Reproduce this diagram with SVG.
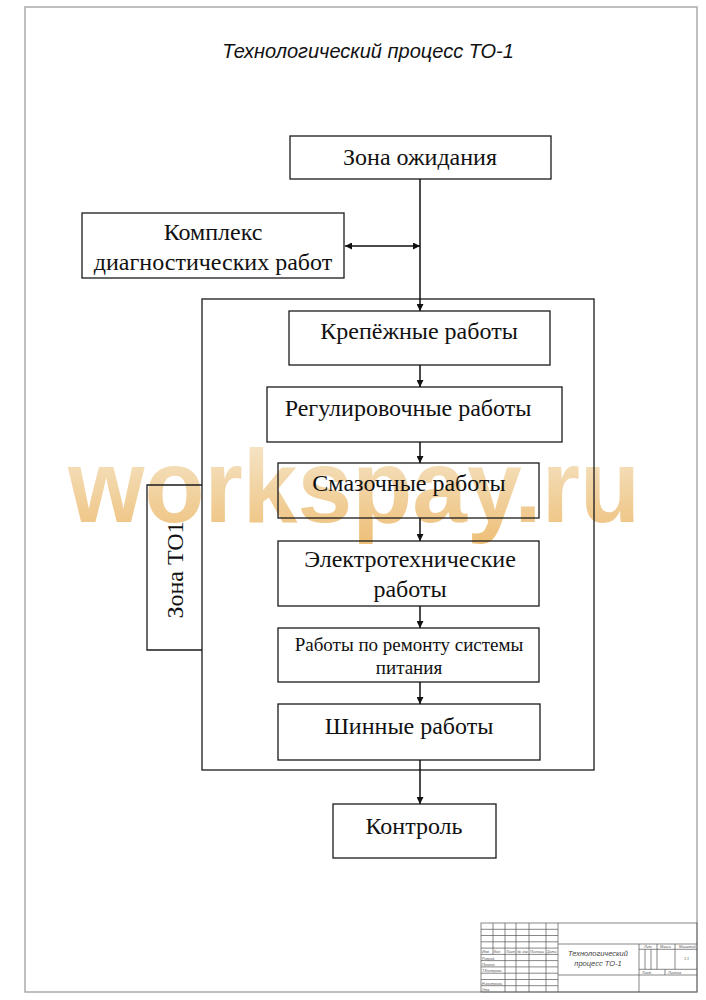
<svg xmlns="http://www.w3.org/2000/svg" width="706" height="1000" viewBox="0 0 706 1000">
<style>
.box{fill:none;stroke:#1a1a1a;stroke-width:1.3}
.lbl{font-family:"Liberation Serif","Times New Roman",serif;font-size:24px;fill:#111;text-anchor:middle}
.sm{font-size:19px}
.con{stroke:#111;stroke-width:1.5;fill:none}
.st{stroke:#555;stroke-width:0.7;fill:none}
.stt{font-family:"Liberation Sans",Arial,sans-serif;font-style:italic;font-size:3.6px;fill:#555}
</style>
<defs>
<marker id="ah" viewBox="0 0 10 10" refX="10" refY="5" markerWidth="7" markerHeight="7" markerUnits="userSpaceOnUse" orient="auto-start-reverse">
<path d="M0,0 L10,5 L0,10 z" fill="#111"/>
</marker>
<linearGradient id="wm" x1="0" y1="0" x2="0" y2="1">
<stop offset="0" stop-color="#f6ead2"/>
<stop offset="1" stop-color="#eebf78"/>
</linearGradient>
</defs>
<rect width="706" height="1000" fill="#fff"/>
<text x="68" y="522" font-family="Liberation Sans,Arial,sans-serif" font-weight="bold" font-size="104" fill="url(#wm)" textLength="572" lengthAdjust="spacingAndGlyphs">workspay.ru</text>
<rect x="25" y="7" width="672" height="985" fill="none" stroke="#aaa" stroke-width="1.5"/>
<text x="368" y="58" font-family="Liberation Sans,Arial,sans-serif" font-style="italic" font-size="20" text-anchor="middle" fill="#111">Технологический процесс ТО-1</text>
<g id="container"><rect class="box" x="202" y="299" width="392" height="471"/></g>
<g id="zona-ozhidaniya"><rect class="box" x="290" y="136" width="261" height="43"/><text class="lbl" x="420" y="165">Зона ожидания</text></g>
<g id="kompleks"><rect class="box" x="82" y="213" width="262" height="65"/><text class="lbl" x="213" y="240">Комплекс</text><text class="lbl" x="213" y="270">диагностических работ</text></g>
<g id="krepezh"><rect class="box" x="289" y="311" width="261" height="54"/><text class="lbl" x="419" y="339">Крепёжные работы</text></g>
<g id="regul"><rect class="box" x="267" y="387" width="295" height="55"/><text class="lbl" x="408" y="416">Регулировочные работы</text></g>
<g id="smaz"><rect class="box" x="278" y="463" width="261" height="55"/><text class="lbl" x="409" y="491">Смазочные работы</text></g>
<g id="elektro"><rect class="box" x="278" y="541" width="261" height="65"/><text class="lbl" x="410" y="567">Электротехнические</text><text class="lbl" x="410" y="597">работы</text></g>
<g id="pitanie"><rect class="box" x="278" y="628" width="261" height="54"/><text class="lbl sm" x="409" y="651">Работы по ремонту системы</text><text class="lbl sm" x="409" y="674">питания</text></g>
<g id="shinnye"><rect class="box" x="278" y="704" width="262" height="56"/><text class="lbl" x="409" y="734">Шинные работы</text></g>
<g id="kontrol"><rect class="box" x="333" y="804" width="163" height="54"/><text class="lbl" x="414" y="834">Контроль</text></g>
<g id="zona-to1"><path class="box" d="M202,485 H147 V650 H202"/><text class="lbl" transform="translate(183,570) rotate(-90)">Зона ТО1</text></g>
<g id="connectors">
<line class="con" x1="420" y1="179" x2="420" y2="311" marker-end="url(#ah)"/>
<line class="con" x1="345" y1="246" x2="420" y2="246" marker-start="url(#ah)" marker-end="url(#ah)"/>
<line class="con" x1="420" y1="365" x2="420" y2="387" marker-end="url(#ah)"/>
<line class="con" x1="420" y1="442" x2="420" y2="463" marker-end="url(#ah)"/>
<line class="con" x1="420" y1="518" x2="420" y2="541" marker-end="url(#ah)"/>
<line class="con" x1="420" y1="606" x2="420" y2="628" marker-end="url(#ah)"/>
<line class="con" x1="420" y1="682" x2="420" y2="704" marker-end="url(#ah)"/>
<line class="con" x1="420" y1="760" x2="420" y2="804" marker-end="url(#ah)"/>
</g>
<g id="stamp">
<rect class="st" x="481" y="923" width="216" height="69"/>
<path class="st" d="M493,923V954.4 M505,923V992 M516,923V992 M529,923V992 M546,923V992 M558,923V992
M481,929.3H558 M481,935.5H558 M481,941.8H558 M481,948.1H558 M481,954.4H558 M481,960.6H558 M481,966.9H558 M481,973.2H558 M481,979.5H558 M481,985.7H558
M558,944H697 M558,975H697 M639,944V992 M639,949.3H697 M639,969.3H697 M657,944V969.3 M675,944V969.3 M645,949.3V969.3 M651,949.3V969.3 M665,969.3V975"/>
<text class="stt" x="482" y="953">Изм.</text>
<text class="stt" x="494" y="953">Кол.</text>
<text class="stt" x="506" y="953">Лист</text>
<text class="stt" x="517" y="953">№ док.</text>
<text class="stt" x="530" y="953">Подпись</text>
<text class="stt" x="547" y="953">Дата</text>
<text class="stt" x="482" y="959.5">Разраб.</text>
<text class="stt" x="482" y="965.8">Провер.</text>
<text class="stt" x="482" y="972">Т.Контроль</text>
<text class="stt" x="482" y="984.5">Н.контроль</text>
<text class="stt" x="482" y="990.7">Утв.</text>
<text x="598" y="956" font-family="Liberation Sans,Arial,sans-serif" font-style="italic" font-size="7.5" text-anchor="middle" fill="#444">Технологический</text>
<text x="598" y="966" font-family="Liberation Sans,Arial,sans-serif" font-style="italic" font-size="7.5" text-anchor="middle" fill="#444">процесс ТО-1</text>
<text class="stt" x="644" y="948">Лит.</text>
<text class="stt" x="660" y="948">Масса</text>
<text class="stt" x="679" y="948">Масштаб</text>
<text class="stt" x="684" y="960">1:1</text>
<text class="stt" x="642" y="973.5">Лист</text>
<text class="stt" x="668" y="973.5">Листов</text>
</g>
</svg>
